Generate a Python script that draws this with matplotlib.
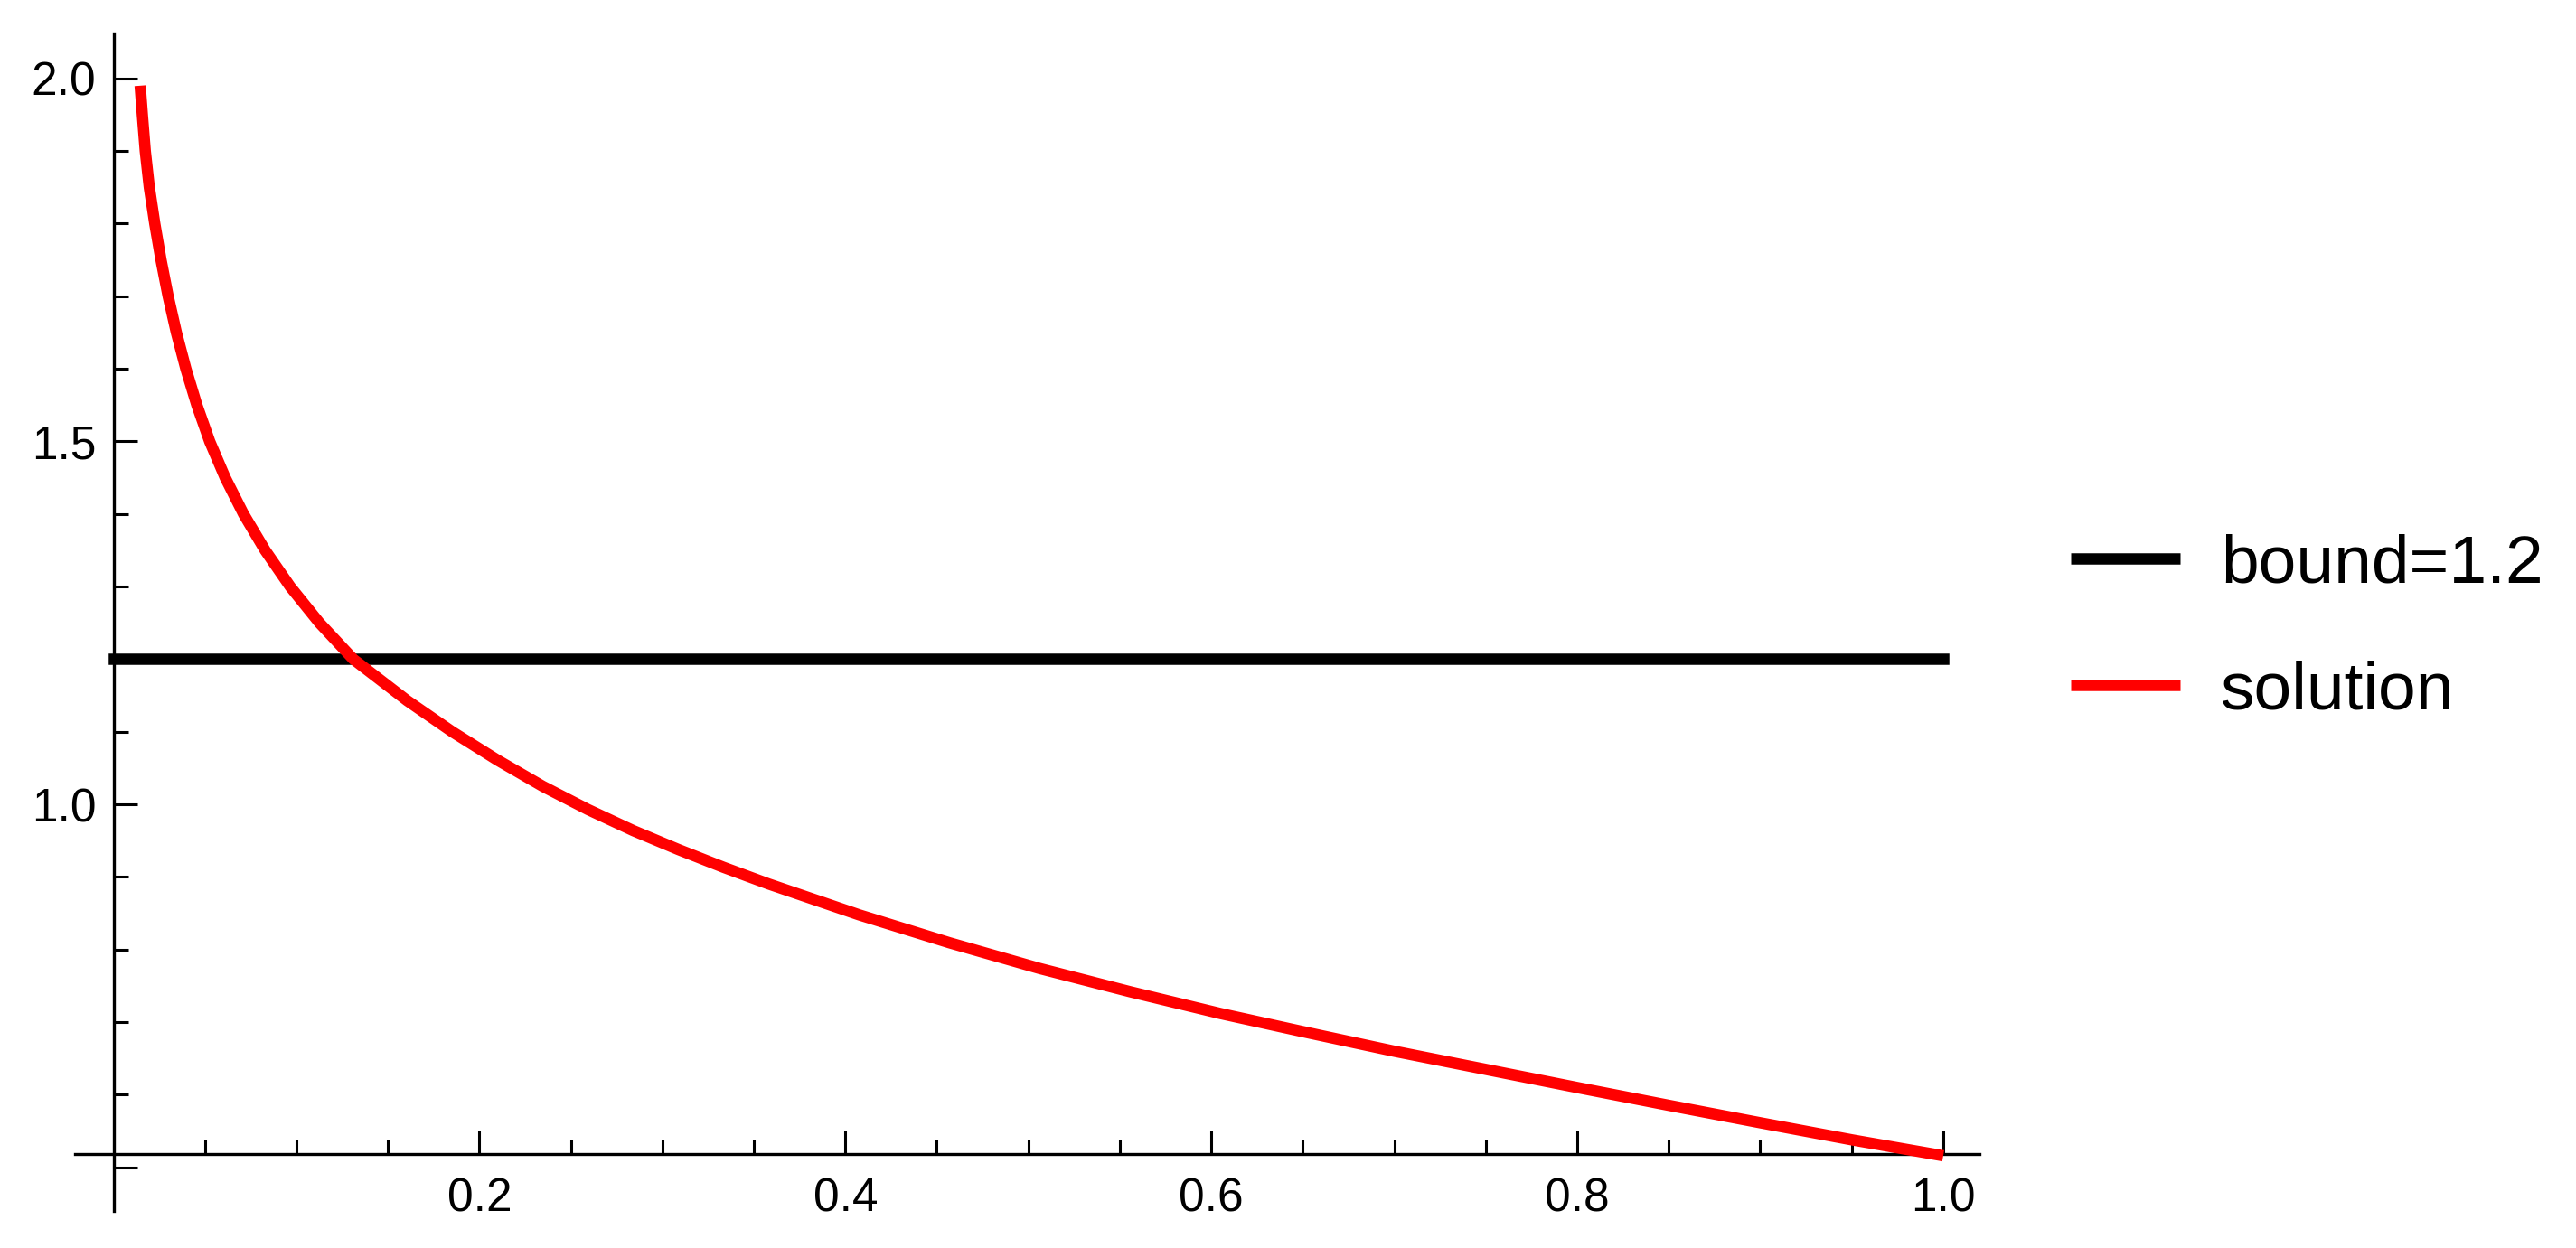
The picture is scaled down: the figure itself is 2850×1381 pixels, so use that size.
import matplotlib
matplotlib.use("Agg")
import matplotlib.pyplot as plt
from matplotlib.lines import Line2D
from matplotlib.ticker import FixedLocator, FixedFormatter

# ---- data ----
x_solution = [0.0146, 0.0158, 0.0174, 0.0196, 0.0226, 0.0260, 0.0299, 0.0344,
              0.0396, 0.0456, 0.0526, 0.0611, 0.0711, 0.0829, 0.0966, 0.1126,
              0.1311, 0.1605, 0.1852, 0.2099, 0.2346, 0.2593, 0.2840, 0.3086,
              0.3333, 0.3580, 0.4074, 0.4568, 0.5062, 0.5556, 0.6049, 0.6500,
              0.7000, 0.7500, 0.8000, 0.8500, 0.9000, 0.9500, 1.0000]
y_solution = [1.990, 1.950, 1.900, 1.850, 1.800, 1.750, 1.700, 1.650,
              1.600, 1.550, 1.500, 1.450, 1.400, 1.350, 1.300, 1.250,
              1.200, 1.143, 1.100, 1.061, 1.025, 0.993, 0.964, 0.938,
              0.9135, 0.8905, 0.848, 0.8095, 0.774, 0.742, 0.712, 0.687,
              0.660, 0.635, 0.610, 0.5855, 0.5615, 0.538, 0.516]
bound_x = [0.0, 1.0]
bound_value = 1.2
series_labels = ["bound=1.2", "solution"]

x_major = [0.2, 0.4, 0.6, 0.8, 1.0]
x_major_labels = ["0.2", "0.4", "0.6", "0.8", "1.0"]
x_minor = [0.05, 0.10, 0.15, 0.25, 0.30, 0.35, 0.45, 0.50, 0.55,
           0.65, 0.70, 0.75, 0.85, 0.90, 0.95]
y_major = [0.5, 1.0, 1.5, 2.0]
y_major_labels = ["", "1.0", "1.5", "2.0"]
y_minor = [0.6, 0.7, 0.8, 0.9, 1.1, 1.2, 1.3, 1.4, 1.6, 1.7, 1.8, 1.9]

x_range = (-0.021, 1.0198)
y_range = (0.44, 2.062)
axis_origin = (0.0, 0.519)

plt.rcParams["font.family"] = ["Liberation Sans", "DejaVu Sans"]

W, H = 2850, 1381
fig = plt.figure(figsize=(W / 100, H / 100), dpi=100)
ax = fig.add_axes([83 / W, 41 / H, 2107 / W, 1303 / H])

ax.plot(bound_x, [bound_value] * len(bound_x), color="black", lw=9,
        solid_capstyle="projecting", zorder=3)
ax.plot(x_solution, y_solution, color="#ff0000", lw=9,
        solid_capstyle="butt", solid_joinstyle="round", zorder=4)

ax.set_xlim(*x_range)
ax.set_ylim(*y_range)

for s in ("top", "right"):
    ax.spines[s].set_visible(False)
ax.spines["left"].set_position(("data", axis_origin[0]))
ax.spines["bottom"].set_position(("data", axis_origin[1]))
for s in ("left", "bottom"):
    ax.spines[s].set_linewidth(2.4)

ax.xaxis.set_major_locator(FixedLocator(x_major))
ax.xaxis.set_major_formatter(FixedFormatter(x_major_labels))
ax.xaxis.set_minor_locator(FixedLocator(x_minor))
ax.yaxis.set_major_locator(FixedLocator(y_major))
ax.yaxis.set_major_formatter(FixedFormatter(y_major_labels))
ax.yaxis.set_minor_locator(FixedLocator(y_minor))

ax.tick_params(which="both", direction="in", width=2.2, labelsize=37)
ax.tick_params(which="major", length=18.7)
ax.tick_params(which="minor", length=11.5)
ax.tick_params(axis="x", which="major", pad=19)
ax.tick_params(axis="y", which="major", pad=13.7)

handles = [Line2D([], [], color="black", lw=9, solid_capstyle="butt"),
           Line2D([], [], color="#ff0000", lw=9, solid_capstyle="butt")]
ax.legend(handles, series_labels, loc="center left",
          bbox_to_anchor=(2291 / W, 1 - 695 / H), bbox_transform=fig.transFigure,
          frameon=False, fontsize=54, handlelength=1.61, handletextpad=0.6,
          labelspacing=0.94, borderpad=0, borderaxespad=0)

fig.savefig("out.png", dpi=100, facecolor="white")
